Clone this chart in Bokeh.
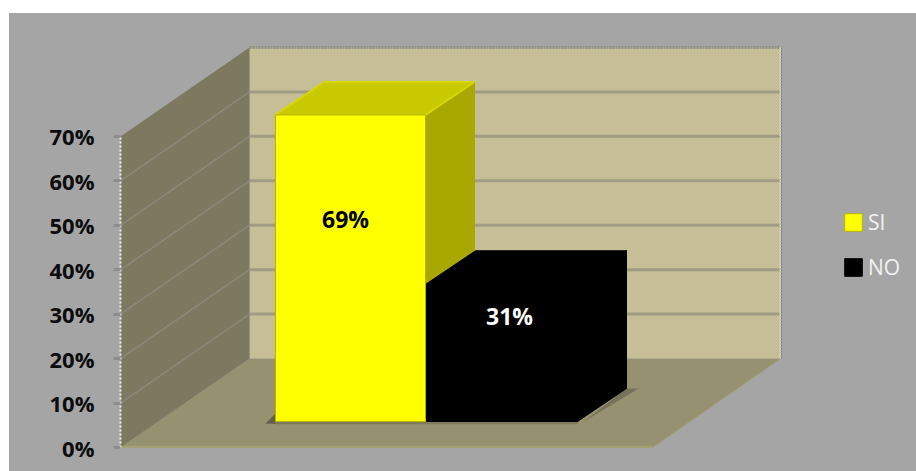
from bokeh.embed import file_html
from bokeh.models import FixedTicker, Legend, LegendItem, Range1d
from bokeh.plotting import figure
from bokeh.resources import INLINE
from bokeh.core.properties import value

categories = ["SI", "NO"]
shares = [69, 31]
tick_values = [0, 10, 20, 30, 40, 50, 60, 70]
tick_labels = ["0%", "10%", "20%", "30%", "40%", "50%", "60%", "70%"]

# Pseudo-3D layout: x is in page columns, y is in percent on the front plane.
PX_PER_PCT = 4.443
WALL_X, BACK_X, RIGHT_X, FLOOR_RIGHT = 120, 249, 780, 652
ROOM_DEPTH = 89 / PX_PER_PCT
BAR_BASE = 26 / PX_PER_PCT
BAR_DX, BAR_DEPTH = 49, 33 / PX_PER_PCT
BAR_LEFT = [275, 426]
BAR_WIDTH = [150, 151]
TOP_PCT = 70
FRONT = ["#ffff00", "#000000"]
TOP = ["#c9c900", "#000000"]
SIDE = ["#a8a800", "#000000"]
LABEL_X = [345, 509]
LABEL_Y = [51.5, 29.5]
LABEL_COLOR = ["#000000", "#ffffff"]

p = figure(
    width=907, height=458, margin=(13, 0, 0, 9), output_backend="svg", toolbar_location=None,
    x_range=Range1d(120, 916), y_range=Range1d(0, 434 / PX_PER_PCT),
    x_axis_location=None, min_border_left=111, min_border_right=0,
    min_border_top=0, min_border_bottom=24, tools="",
)
# The element's own background paints the panel; frame and border stay transparent so no seam shows.
p.styles = {"background-color": "#a5a5a5"}
p.border_fill_color = None
p.background_fill_color = None
p.outline_line_color = None
p.grid.visible = False

top_back = TOP_PCT + ROOM_DEPTH

# Room: floor, back wall and left wall
p.patch([WALL_X, BACK_X, RIGHT_X, FLOOR_RIGHT], [0, ROOM_DEPTH, ROOM_DEPTH, 0], color="#969171", line_width=0)
p.patch([BACK_X, RIGHT_X, RIGHT_X, BACK_X], [ROOM_DEPTH, ROOM_DEPTH, top_back, top_back], color="#c5be97", line_width=0)
p.patch([WALL_X, BACK_X, BACK_X, WALL_X], [0, ROOM_DEPTH, top_back, TOP_PCT], color="#7d7961", line_width=0)
p.line([WALL_X, FLOOR_RIGHT], [0.1, 0.1], color="#a8a268", line_width=2)
p.line([FLOOR_RIGHT, RIGHT_X], [0, ROOM_DEPTH], color="#a09b70", line_width=1)

# Gridlines on both walls
inner = tick_values[1:-1]
p.multi_line([[BACK_X, RIGHT_X] for _ in inner], [[v + ROOM_DEPTH] * 2 for v in inner], color="#a19c84", line_width=3)
p.multi_line([[WALL_X, BACK_X] for _ in inner], [[v, v + ROOM_DEPTH] for v in inner], color="#8b887a", line_width=1.5)

# Dotted room edges
p.line([BACK_X, RIGHT_X], [top_back, top_back], color="#8f8f85", line_width=3, line_dash="2 1")
p.line([RIGHT_X, RIGHT_X], [ROOM_DEPTH, top_back], color="#dcdcd0", line_width=2, line_dash="2 1")
p.line([RIGHT_X + 1, RIGHT_X + 1], [ROOM_DEPTH, top_back], color="#77776a", line_width=1, line_dash="2 1")

# Soft contact shadows on the floor
p.patch([265, 275, 275], [BAR_BASE - 0.5, BAR_BASE - 0.5, BAR_BASE + 1.8], color="#4f4d3e", alpha=0.75, line_width=0)
p.patch([275, 577, 577, 275], [BAR_BASE, BAR_BASE, BAR_BASE - 0.6, BAR_BASE - 0.6], color="#6d6a52", alpha=0.6, line_width=0)
p.patch([626, 638, 582], [BAR_BASE + BAR_DEPTH, BAR_BASE + BAR_DEPTH, BAR_BASE - 0.2], color="#5e5b48", alpha=0.55, line_width=0)

legend_items = []
for i, (name, share) in enumerate(zip(categories, shares)):
    x0 = BAR_LEFT[i]
    x1 = x0 + BAR_WIDTH[i]
    y0 = BAR_BASE
    y1 = BAR_BASE + share
    p.patch([x0, x0 + BAR_DX, x1 + BAR_DX, x1], [y1, y1 + BAR_DEPTH, y1 + BAR_DEPTH, y1],
            fill_color=TOP[i], line_color=TOP[i], line_width=1)
    p.patch([x1, x1 + BAR_DX, x1 + BAR_DX, x1], [y0, y0 + BAR_DEPTH, y1 + BAR_DEPTH, y1],
            fill_color=SIDE[i], line_color=SIDE[i], line_width=1)
    if i == 0:
        # Bevelled highlights along the yellow box's upper edges
        p.line([x0, x0 + BAR_DX, x1 + BAR_DX, x1], [y1, y1 + BAR_DEPTH, y1 + BAR_DEPTH, y1], color="#d6d600", line_width=2)
    front = p.quad(left=[x0], right=[x1], bottom=[y0], top=[y1], fill_color=FRONT[i],
                   line_color="#b5b500" if i == 0 else "#000000", line_width=1)
    legend_items.append(LegendItem(label=name, renderers=[front]))

p.text(LABEL_X, LABEL_Y, text=[f"{s}%" for s in shares], text_color=LABEL_COLOR,
       text_font=value("Open Sans"), text_font_style="bold", text_font_size="23px",
       text_align="center", text_baseline="middle")

axis = p.yaxis[0]
axis.ticker = FixedTicker(ticks=tick_values)
axis.major_label_overrides = dict(zip(tick_values, tick_labels))
axis.bounds = (0, TOP_PCT)
axis.axis_line_color = "#ececec"
axis.axis_line_width = 2
axis.axis_line_dash = "2 2"
axis.major_tick_line_color = "#8e8e8e"
axis.major_tick_line_width = 3
axis.major_tick_in = 0
axis.major_tick_out = 7
axis.minor_tick_line_color = None
axis.major_label_standoff = 19
axis.major_label_text_font = "Open Sans"
axis.major_label_text_font_style = "bold"
axis.major_label_text_font_size = "22px"
axis.major_label_text_color = "#0b0b0b"

legend = Legend(
    items=legend_items, location=(722, 166), orientation="vertical",
    background_fill_alpha=0, border_line_color=None, padding=0, margin=0,
    glyph_width=22, glyph_height=22, label_standoff=4, spacing=17,
    label_text_color="#f2f2f2", label_text_font="Open Sans", label_text_font_size="21px",
    label_height=18,
)
p.add_layout(legend, "center")

open("out.html", "w").write(file_html(p, INLINE))
